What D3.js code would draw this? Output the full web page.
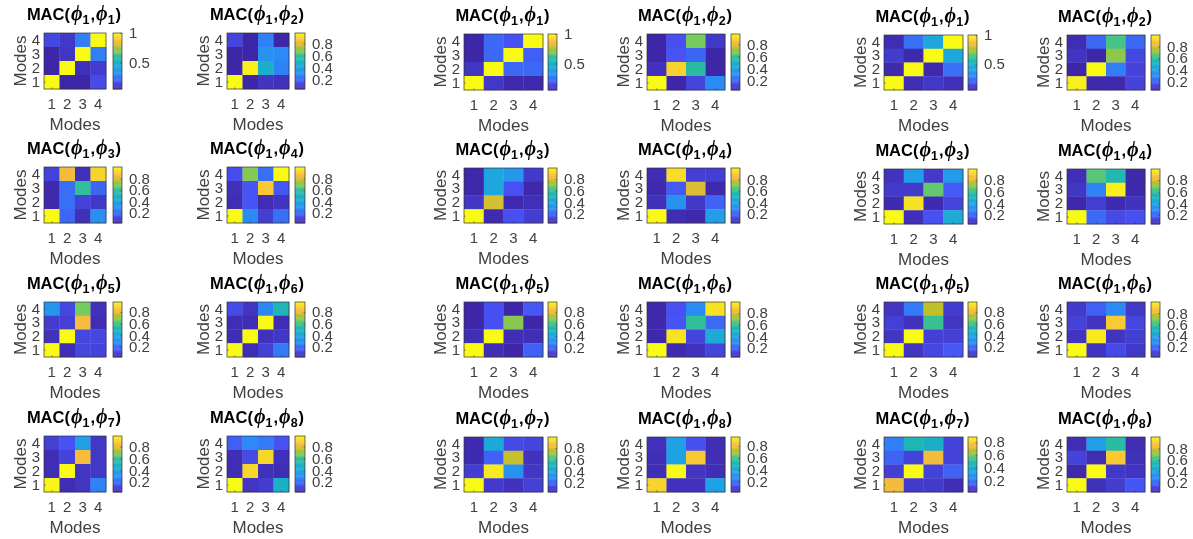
<!DOCTYPE html>
<html><head><meta charset="utf-8">
<script src="https://cdn.jsdelivr.net/npm/d3@7"></script>
<style>
html,body{margin:0;padding:0;background:#fff;overflow:hidden}
svg{display:block;filter:blur(0.4px)}
text{font-family:"Liberation Sans",Arial,sans-serif}
</style></head><body>
<svg id="c" width="1193" height="539"></svg>
<script>
// ---------- data ----------
const modes = [1, 2, 3, 4];
const ticksDefault = [0.2, 0.4, 0.6, 0.8];
const ticksFirst = [0.5, 1];
const secondIndex = [1, 2, 3, 4, 5, 6, 7, 8];

// each matrix: rows from mode 4 (top) to mode 1 (bottom)
const macA = [
 [[.14,.10,.27,1],[.05,.09,1,.27],[.05,1,.08,.11],[1,.05,.05,.15]],
 [[.13,.05,.27,.05],[.05,.05,.33,.30],[.05,.95,.47,.27],[1,.05,.09,.08]],
 [[.11,.85,.06,.93],[.04,.22,.60,.20],[.04,.22,.11,.08],[1,.20,.06,.32]],
 [[.14,.70,.22,1],[.06,.16,.90,.17],[.05,.16,.05,.07],[1,.30,.10,.22]],
 [[.33,.12,.66,.06],[.09,.10,.83,.05],[.06,1,.12,.12],[1,.05,.12,.11]],
 [[.13,.07,.27,.52],[.05,.05,.97,.05],[.05,1,.06,.08],[1,.05,.10,.24]],
 [[.10,.15,.37,.08],[.05,.11,.84,.08],[.05,1,.07,.08],[.97,.05,.07,.26]],
 [[.18,.28,.24,.15],[.05,.13,.92,.06],[.05,.92,.06,.05],[1,.07,.09,.47]]
];
const macB = [
 [[.05,.22,.17,1],[.05,.22,1,.20],[.09,1,.22,.22],[1,.10,.06,.06]],
 [[.05,.16,.67,.10],[.05,.17,.21,.05],[.08,.90,.57,.05],[1,.05,.13,.30]],
 [[.05,.42,.35,.10],[.05,.42,.16,.05],[.09,.80,.06,.07],[1,.06,.16,.11]],
 [[.06,.95,.11,.11],[.05,.18,.82,.05],[.07,.33,.09,.20],[1,.06,.05,.38]],
 [[.05,.16,.05,.18],[.05,.16,.69,.05],[.07,.97,.07,.07],[1,.07,.05,.20]],
 [[.05,.16,.30,.95],[.05,.17,.60,.22],[.05,.95,.13,.45],[1,.06,.08,.13]],
 [[.06,.43,.14,.13],[.06,.20,.78,.08],[.11,.96,.33,.09],[1,.10,.08,.12]],
 [[.06,.37,.14,.05],[.05,.37,.85,.05],[.05,.95,.07,.05],[.88,.06,.06,.37]]
];
const macC = [
 [[.07,.24,.43,1],[.11,.06,1,.43],[.06,1,.06,.24],[1,.07,.10,.08]],
 [[.07,.22,.64,.22],[.09,.05,.72,.14],[.05,1,.27,.13],[.98,.06,.06,.13]],
 [[.08,.38,.10,.37],[.10,.10,.66,.18],[.06,.95,.06,.13],[1,.07,.16,.45]],
 [[.07,.65,.55,.05],[.09,.28,.97,.05],[.05,.11,.06,.08],[1,.22,.14,.16]],
 [[.07,.24,.75,.09],[.10,.06,.60,.07],[.07,.97,.10,.10],[1,.07,.12,.16]],
 [[.08,.18,.28,.07],[.10,.06,.90,.11],[.06,.97,.06,.09],[1,.06,.12,.07]],
 [[.23,.47,.42,.10],[.17,.10,.75,.10],[.09,.88,.10,.17],[.75,.08,.08,.05]],
 [[.06,.38,.58,.06],[.12,.06,.90,.07],[.05,1,.09,.08],[1,.07,.10,.17]]
];
// colour range of each panel
const rangeA = [[.05,1],[.05,.97],[.03,1],[.03,1],[.03,.97],[.03,.97],[.03,.98],[.03,.98]];
const rangeB = [[.05,1],[.05,.97],[.045,.99],[.04,1],[.05,.97],[.045,.99],[.045,.99],[.03,.95]];
const rangeC = [[.05,1],[.05,1],[.045,.99],[.045,.99],[.03,.97],[.02,1],[.03,.88],[.04,1]];

// parula colour map samples
const parulaPos = [0,.127,.254,.381,.508,.603,.667,.762,.857,.937,1];
const parulaCol = ["#3e26a8","#4852f4","#2d87f7","#1ea4e3","#1bb5b9","#36bf95","#71cc62","#bcbf2b","#fbbc3e","#f7d72a","#f9fb15"];

// ---------- layout ----------
const groups = [
 {mac: macA, range: rangeA, cols: [[44,106,113,122],[227,289,295,305]], rows: [[33,89],[167,223],[302,357],[436,492]]},
 {mac: macB, range: rangeB, cols: [[464,543,548,557],[647,725,731,740]], rows: [[34,90],[168,223],[302,357],[437,492]]},
 {mac: macC, range: rangeC, cols: [[884,963,968,977],[1067,1145,1151,1160]], rows: [[35,90],[169,224],[302,357],[437,492]]}
];

const svg = d3.select("#c");
const colorT = d3.scaleLinear().domain(parulaPos).range(parulaCol).clamp(true);
const ink = "#404040";

function styleAxis(g){
  g.selectAll("text").attr("fill", ink).style("font-size","15px");
  g.selectAll("line").attr("stroke","#333").attr("stroke-width",.6);
  g.select(".domain").remove();
}

groups.forEach(gr => {
  gr.mac.forEach((m, k) => {
    const col = gr.cols[k % 2], row = gr.rows[Math.floor(k / 2)];
    const [x0, x1, b0, b1] = col, [y0, y1] = row;
    const [lo, hi] = gr.range[k];
    const g = svg.append("g");
    const x = d3.scaleBand().domain(modes).range([x0, x1]);
    const y = d3.scaleBand().domain([...modes].reverse()).range([y0, y1]);
    const t = d3.scaleLinear().domain([lo, hi]).range([0, 1]).clamp(true);

    g.selectAll("g.r").data(m).join("g").each(function(rowVals, ri){
      d3.select(this).selectAll("rect").data(rowVals).join("rect")
        .attr("x", (d, ci) => x(modes[ci]))
        .attr("y", y(modes[3 - ri]))
        .attr("width", x.bandwidth() + .3)
        .attr("height", y.bandwidth() + .3)
        .attr("fill", d => colorT(t(d)));
    });
    g.append("rect").attr("x", x0).attr("y", y0).attr("width", x1 - x0).attr("height", y1 - y0)
      .attr("fill", "none").attr("stroke", "#333").attr("stroke-width", .7);

    g.append("g").attr("transform", `translate(0,${y1})`)
      .call(d3.axisBottom(x).tickSizeOuter(0).tickSizeInner(-1.5).tickPadding(9)).call(styleAxis);
    g.append("g").attr("transform", `translate(${x0},0)`)
      .call(d3.axisLeft(y).tickSizeOuter(0).tickSizeInner(-1.5).tickPadding(4)).call(styleAxis);

    const cx = (x0 + x1) / 2, cy = (y0 + y1) / 2;
    g.append("text").attr("x", cx).attr("y", y1 + 41).attr("text-anchor", "middle")
      .attr("fill", ink).style("font-size", "17px").text("Modes");
    g.append("text").attr("transform", `translate(${x0 - 18},${cy}) rotate(-90)`)
      .attr("text-anchor", "middle").attr("fill", ink).style("font-size", "17px").text("Modes");

    // title
    const tt = g.append("text").attr("x", cx - 1).attr("y", y0 - 13).attr("text-anchor", "middle")
      .attr("fill", "#000").style("font-size", "16.5px").style("font-weight", "700");
    const phi = (sub, last) => {
      tt.append("tspan").attr("dx", 1).text("\u03d5").style("font-family", '"Liberation Serif",serif')
        .style("font-style", "italic").style("font-size", "20px");
      tt.append("tspan").attr("dy", 4).style("font-size", "12.5px").text(sub);
      tt.append("tspan").attr("dy", -4).attr("dx", 1).text(last);
    };
    tt.append("tspan").text("MAC(");
    phi(1, ",");
    phi(secondIndex[k], ")");

    // colour bar
    const cb = d3.scaleLinear().domain([lo, hi]).range([y1, y0]);
    const levels = d3.range(64);
    g.selectAll("rect.cb").data(levels).join("rect").attr("class", "cb")
      .attr("x", b0).attr("width", b1 - b0)
      .attr("y", d => cb(lo + (d + 1) / 64 * (hi - lo)))
      .attr("height", (y1 - y0) / 64 + .4)
      .attr("fill", d => colorT((d + .5) / 64));
    g.append("rect").attr("x", b0).attr("y", y0).attr("width", b1 - b0).attr("height", y1 - y0)
      .attr("fill", "none").attr("stroke", "#333").attr("stroke-width", .7);
    const tv = k === 0 ? ticksFirst : ticksDefault;
    g.append("g").attr("transform", `translate(${b1},0)`)
      .call(d3.axisRight(cb).tickValues(tv).tickFormat(d3.format("~g")).tickSizeOuter(0).tickSizeInner(-1.5).tickPadding(7))
      .call(styleAxis);
  });
});
</script>
</body></html>
